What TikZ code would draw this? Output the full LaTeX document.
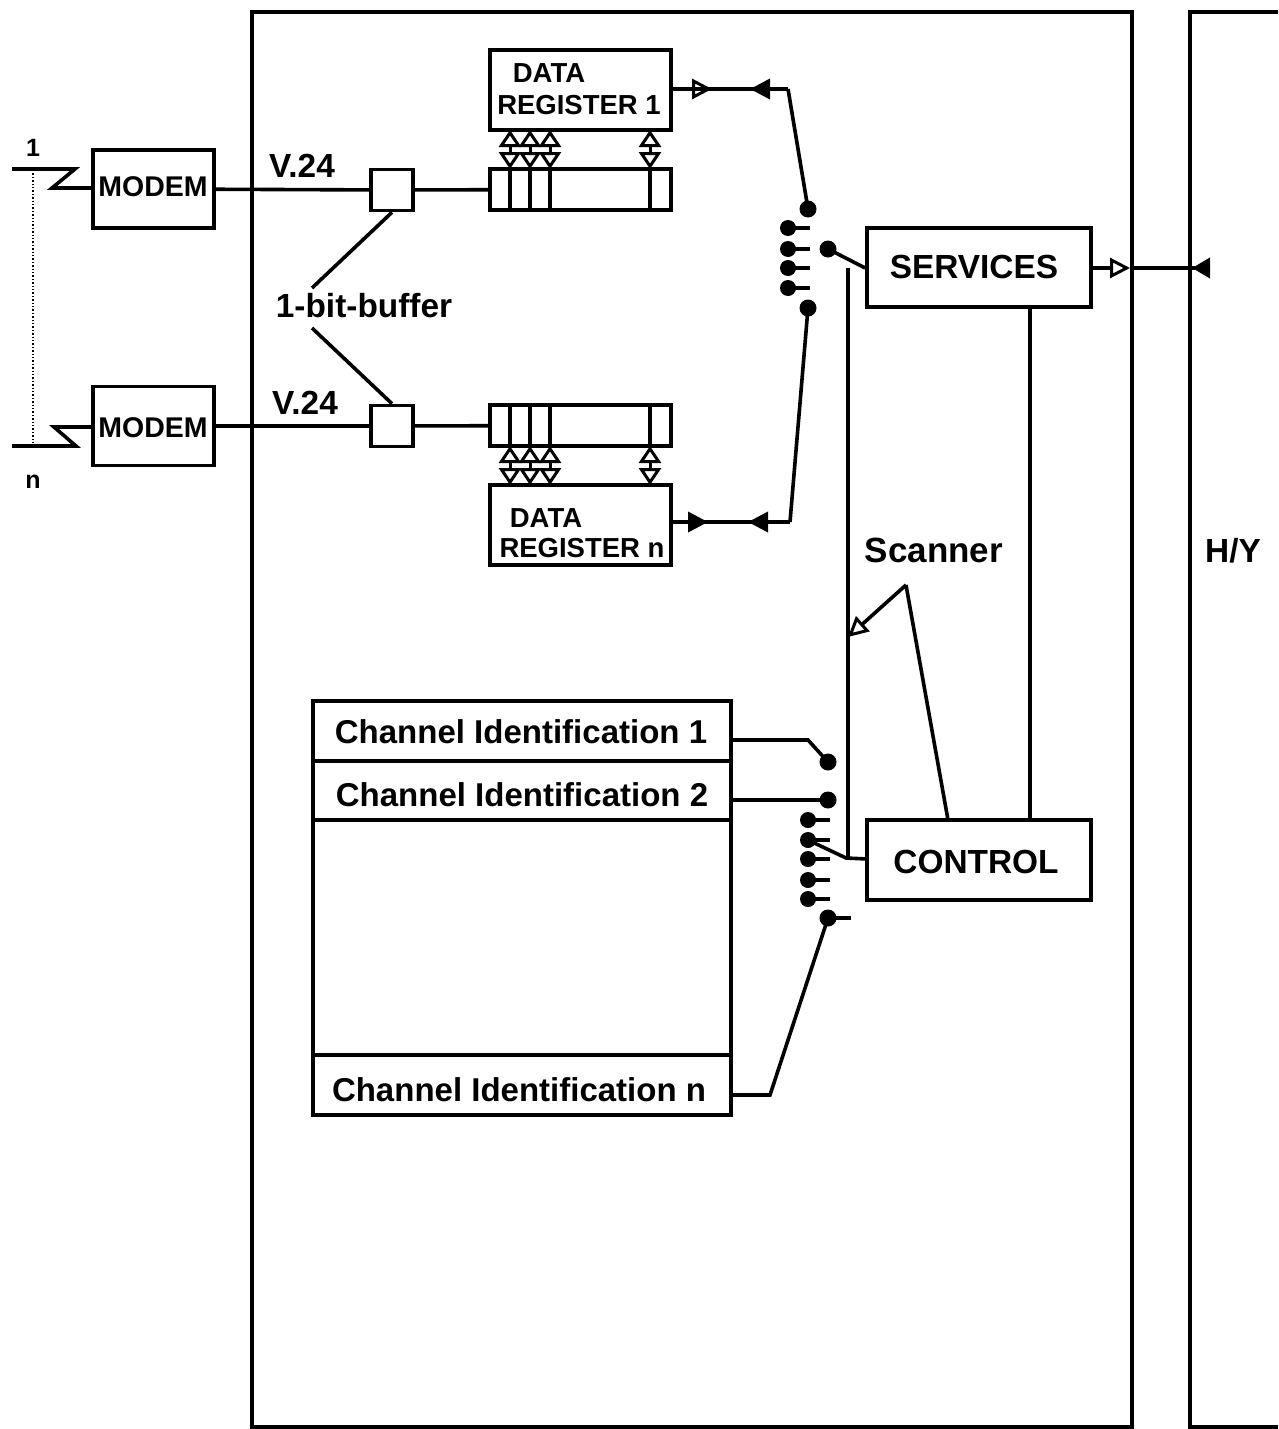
\documentclass[tikz,border=0pt]{standalone}
\usepackage{fontspec}
\setmainfont{Liberation Sans}[BoldFont={Liberation Sans Bold}]
\usetikzlibrary{arrows.meta}
\tikzset{
	box/.style={draw,line width=3.6pt,inner sep=0pt,fill=white},
	lbl/.style={inner sep=0pt,font=\fontsize{33.4}{38}\selectfont\bfseries},
	chan/.style={inner sep=0pt,font=\fontsize{33}{38}\selectfont\bfseries},
	small/.style={inner sep=0pt,font=\fontsize{28.5}{31}\selectfont\bfseries},
	regtext/.style={inner sep=0pt,font=\fontsize{27.5}{31}\selectfont\bfseries},
	tiny/.style={inner sep=0pt,font=\fontsize{25}{28}\selectfont\bfseries},
	wire/.style={line width=3.6pt},
	contact/.style={circle,fill=black,inner sep=0pt,minimum size=17pt},
	hollow/.style={-{Triangle[open,length=20pt,width=20pt,line width=3pt]}},
	solid head/.style={-{Triangle[length=20pt,width=20pt]}},
	both open/.style={{Triangle[open,length=17pt,width=22pt,line width=3pt]}-{Triangle[open,length=17pt,width=22pt,line width=3pt]},line width=3pt},
}
\begin{document}
\begin{tikzpicture}[x=1pt,y=-1pt]
	\useasboundingbox (0,0) rectangle (1278,1429);
	\fill[white] (0,0) rectangle (1278,1429);

	% outer frames
	\node[box,minimum width=880pt,minimum height=1415pt] (main) at (692,719.5) {};
	\coordinate (hyta) at (1278,12);
	\coordinate (hytb) at (1190,12);
	\coordinate (hyba) at (1190,1427);
	\coordinate (hybb) at (1278,1427);
	\draw[line width=3.6pt] (hyta) -- (hytb) -- (hyba) -- (hybb);
	\node[lbl] (hy) at (1233,551) {H/Y};

	% line side
	\coordinate (za1) at (12,169);
	\coordinate (za2) at (75,169);
	\coordinate (za3) at (52,188);
	\coordinate (zb1) at (12,446);
	\coordinate (zb2) at (76,446);
	\coordinate (zb3) at (54,427);
	\coordinate (dota) at (33,170);
	\coordinate (dotb) at (33,446);
	\node[tiny] (one) at (33,148) {1};
	\node[tiny] (en) at (33,482) {n};
	\node[box,minimum width=121pt,minimum height=78pt] (moda) at (153.5,189) {};
	\node[box,minimum width=121pt,minimum height=79pt] (modb) at (153.5,426) {};
	\node[small] (modat) at (153,187) {MODEM};
	\node[small] (modbt) at (153,428) {MODEM};
	\draw[wire] (za1) -- (za2) -- (za3) -- (moda.west |- za3);
	\draw[wire] (zb1) -- (zb2) -- (zb3) -- (modb.west |- zb3);
	\draw[dotted,line width=1.4pt] (dota) -- (dotb);

	% registers
	\node[box,minimum width=42pt,minimum height=41pt] (bufa) at (392,190) {};
	\node[box,minimum width=42pt,minimum height=41pt] (bufb) at (392,426) {};
	\node[box,minimum width=181pt,minimum height=41pt] (stripa) at (580.5,189.5) {};
	\node[box,minimum width=181pt,minimum height=41pt] (stripb) at (580.5,425.5) {};
	\node[box,minimum width=181pt,minimum height=80pt] (rega) at (580.5,90) {};
	\node[box,minimum width=181pt,minimum height=80pt] (regb) at (580.5,525) {};
	\node[regtext] (rega1) at (549,73) {DATA};
	\node[regtext] (rega2) at (579,105) {REGISTER 1};
	\node[regtext] (regb1) at (546,518) {DATA};
	\node[regtext] (regb2) at (582,548) {REGISTER n};
	\draw[wire] (moda) -- (bufa);
	\draw[wire] (bufa) -- (stripa);
	\draw[wire] (modb) -- (bufb);
	\draw[wire] (bufb) -- (stripb);
	\node[lbl] (va) at (302,166) {V.24};
	\node[lbl] (vb) at (305,403) {V.24};
	\node[lbl] (bit) at (364,306) {1-bit-buffer};
	\coordinate (bita) at (312,288);
	\coordinate (bitb) at (312,328);
	\draw[wire] (bufa.south) -- (bita);
	\draw[wire] (bufb.north) -- (bitb);

	\foreach \x in {510,530,550,650} {
		\coordinate (at\x) at (\x,130);
		\coordinate (ab\x) at (\x,169);
		\coordinate (ac\x) at (\x,210);
		\coordinate (bt\x) at (\x,405);
		\coordinate (bc\x) at (\x,446);
		\coordinate (bb\x) at (\x,485);
		\draw[line width=3.4pt] (ab\x) -- (ac\x);
		\draw[line width=3.4pt] (bt\x) -- (bc\x);
		\draw[both open] (at\x) -- (ab\x);
		\draw[both open] (bc\x) -- (bb\x);
	}

	% scanner contacts, upper
	\node[contact] (sa) at (808,209) {};
	\node[contact] (se) at (808,308) {};
	\node[contact] (wipa) at (828,249) {};
	\foreach \n/\y in {1/228,2/249,3/268,4/288} {
		\node[contact,minimum size=16pt] (s\n) at (788,\y) {};
		\coordinate (st\n) at (810,\y);
		\draw[wire] (s\n.center) -- (st\n);
	}
	\coordinate (bendb) at (790,522);
	\coordinate (benda) at (788,89);
	\coordinate (mida) at (732,89);
	\coordinate (midb) at (728,522);
	\draw[wire,hollow] (rega.east |- mida) -- (712,89);
	\draw[wire] (rega.east |- mida) -- (benda);
	\draw[wire] (benda) -- (sa.center);
	\draw[wire,solid head] (benda) -- (750,89);
	\draw[wire,solid head] (regb.east |- midb) -- (708,522);
	\draw[wire] (regb.east |- midb) -- (bendb);
	\draw[wire] (bendb) -- (se.center);
	\draw[wire,solid head] (bendb) -- (748,522);

	% services, control
	\node[box,minimum width=224pt,minimum height=79pt] (serv) at (979,267.5) {};
	\node[box,minimum width=224pt,minimum height=80pt] (ctrl) at (979,860) {};
	\node[lbl] (servt) at (974,267) {SERVICES};
	\node[lbl] (ctrlt) at (976,862) {CONTROL};
	\coordinate (busa) at (848,268);
	\coordinate (busb) at (848,859);
	\coordinate (wipbb) at (867,859);
	\draw[wire] (wipa.center) -- (serv.west |- busa);
	\draw[wire] (busa) -- (busb);
	\draw[wire] (1030,307) coordinate (vb1) -- (1030,820) coordinate (vb2);

	% channel table
	\node[box,minimum width=418pt,minimum height=414pt] (tab) at (522,908) {};
	\coordinate (ta) at (313,761);
	\coordinate (tb) at (313,820);
	\coordinate (tc) at (313,1055);
	\draw[wire] (ta) -- (ta -| tab.east);
	\draw[wire] (tb) -- (tb -| tab.east);
	\draw[wire] (tc) -- (tc -| tab.east);
	\node[chan] (cha) at (521,732) {Channel Identification 1};
	\node[chan] (chb) at (522,795) {Channel Identification 2};
	\node[chan] (chn) at (519,1090) {Channel Identification n};

	% scanner contacts, lower
	\node[contact] (ca) at (828,762) {};
	\node[contact] (cb) at (828,800) {};
	\node[contact] (cn) at (828,918) {};
	\coordinate (cnt) at (851,918);
	\draw[wire] (cn.center) -- (cnt);
	\foreach \n/\y in {1/820,2/840,3/859,4/880,5/899} {
		\node[contact,minimum size=16pt] (c\n) at (808,\y) {};
		\coordinate (ct\n) at (830,\y);
		\draw[wire] (c\n.center) -- (ct\n);
	}
	\coordinate (bca) at (808,740);
	\coordinate (bcn) at (770,1095);
	\coordinate (wipb) at (846,858);
	\draw[wire] (tab.east |- bca) -- (bca) -- (ca.center);
	\draw[wire] (tab.east |- cb) -- (cb.center);
	\draw[wire] (tab.east |- bcn) -- (bcn) -- (cn.center);
	\draw[wire] (c2.center) -- (wipb) -- (wipbb);

	% scanner label
	\node[inner sep=0pt,font=\fontsize{35}{38}\selectfont\bfseries] (scan) at (934,550) {Scanner};
	\coordinate (scana) at (906,585);
	\coordinate (scanb) at (848,637);
	\coordinate (scanc) at (948,820);
	\draw[wire,hollow] (scana) -- (scanb);
	\draw[wire] (scana) -- (scanc);

	% output to H/Y
	\coordinate (outa) at (1130,268);
	\coordinate (outb) at (1210,268);
	\coordinate (outc) at (1192,268);
	\draw[wire,hollow] (serv.east |- outa) -- (outa);
	\draw[wire] (outa) -- (outb);
	\draw[wire,-{Triangle[length=18pt,width=20pt]}] (outb) -- (outc);
\end{tikzpicture}
\end{document}
